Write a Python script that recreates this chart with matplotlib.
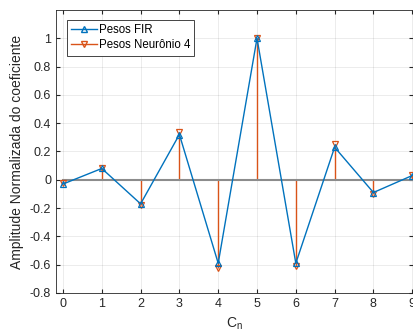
import matplotlib.pyplot as plt
import numpy as np
from matplotlib.lines import Line2D

plt.rcParams['font.family'] = ['Liberation Sans', 'DejaVu Sans']

coef = np.arange(10)
pesos_fir = [-0.03, 0.08, -0.17, 0.32, -0.59, 1.0, -0.59, 0.23, -0.09, 0.03]
pesos_neur = [-0.025, 0.085, -0.175, 0.34, -0.62, 1.0, -0.61, 0.25, -0.10, 0.035]
yticks = [-0.8, -0.6, -0.4, -0.2, 0, 0.2, 0.4, 0.6, 0.8, 1]
ytick_labels = ['-0.8', '-0.6', '-0.4', '-0.2', '0', '0.2', '0.4', '0.6', '0.8', '1']

azul = '#0072BD'
laranja = '#D95319'

fig = plt.figure(figsize=(4.13, 3.34), dpi=100)
ax = fig.add_axes([0.1356, 0.1228, 0.8644, 0.8473])

# stems of neuron weights
markerline, stemlines, baseline = ax.stem(coef, pesos_neur, linefmt='-', markerfmt='v', basefmt='-')
plt.setp(stemlines, color=laranja, linewidth=1.0)
plt.setp(markerline, color=laranja, markerfacecolor='none', markersize=5, markeredgewidth=0.9, zorder=3)
plt.setp(baseline, color='#8c8c8c', linewidth=1.5, zorder=2)

ax.plot(coef, pesos_fir, '-^', color=azul, markerfacecolor='none', markersize=5,
        markeredgewidth=0.9, linewidth=1.0, zorder=4)

ax.set_xlim(-0.18, 9.02)
ax.set_ylim(-0.8, 1.2)
ax.set_xticks(coef)
ax.set_yticks(yticks)
ax.set_yticklabels(ytick_labels)
ax.tick_params(direction='in', labelsize=9, colors='#262626', length=3, top=True, right=True)
ax.grid(True, color='#000000', alpha=0.09, linewidth=0.6)
ax.set_axisbelow(True)
for s in ax.spines.values():
    s.set_color('#262626')
    s.set_linewidth(0.6)

ax.set_xlabel('C$_\\mathregular{n}$', fontsize=10, color='#262626')
ax.set_ylabel('Amplitude Normalizada do coeficiente', fontsize=10, color='#262626')

h1 = Line2D([], [], color=azul, marker='^', markerfacecolor='none', markersize=5, linewidth=1.0)
h2 = Line2D([], [], color=laranja, marker='v', markerfacecolor='none', markersize=5, linewidth=1.0)
leg = ax.legend([h1, h2], ['Pesos FIR', 'Pesos Neurônio 4'], loc='upper left',
                fontsize=8.3, fancybox=False, framealpha=1, edgecolor='#262626',
                borderaxespad=0.5, handlelength=2.2, handletextpad=0.2,
                labelspacing=0.3, borderpad=0.35, bbox_to_anchor=(0.015, 0.985))
leg.get_frame().set_linewidth(0.6)

fig.savefig('out.png', dpi=100)
